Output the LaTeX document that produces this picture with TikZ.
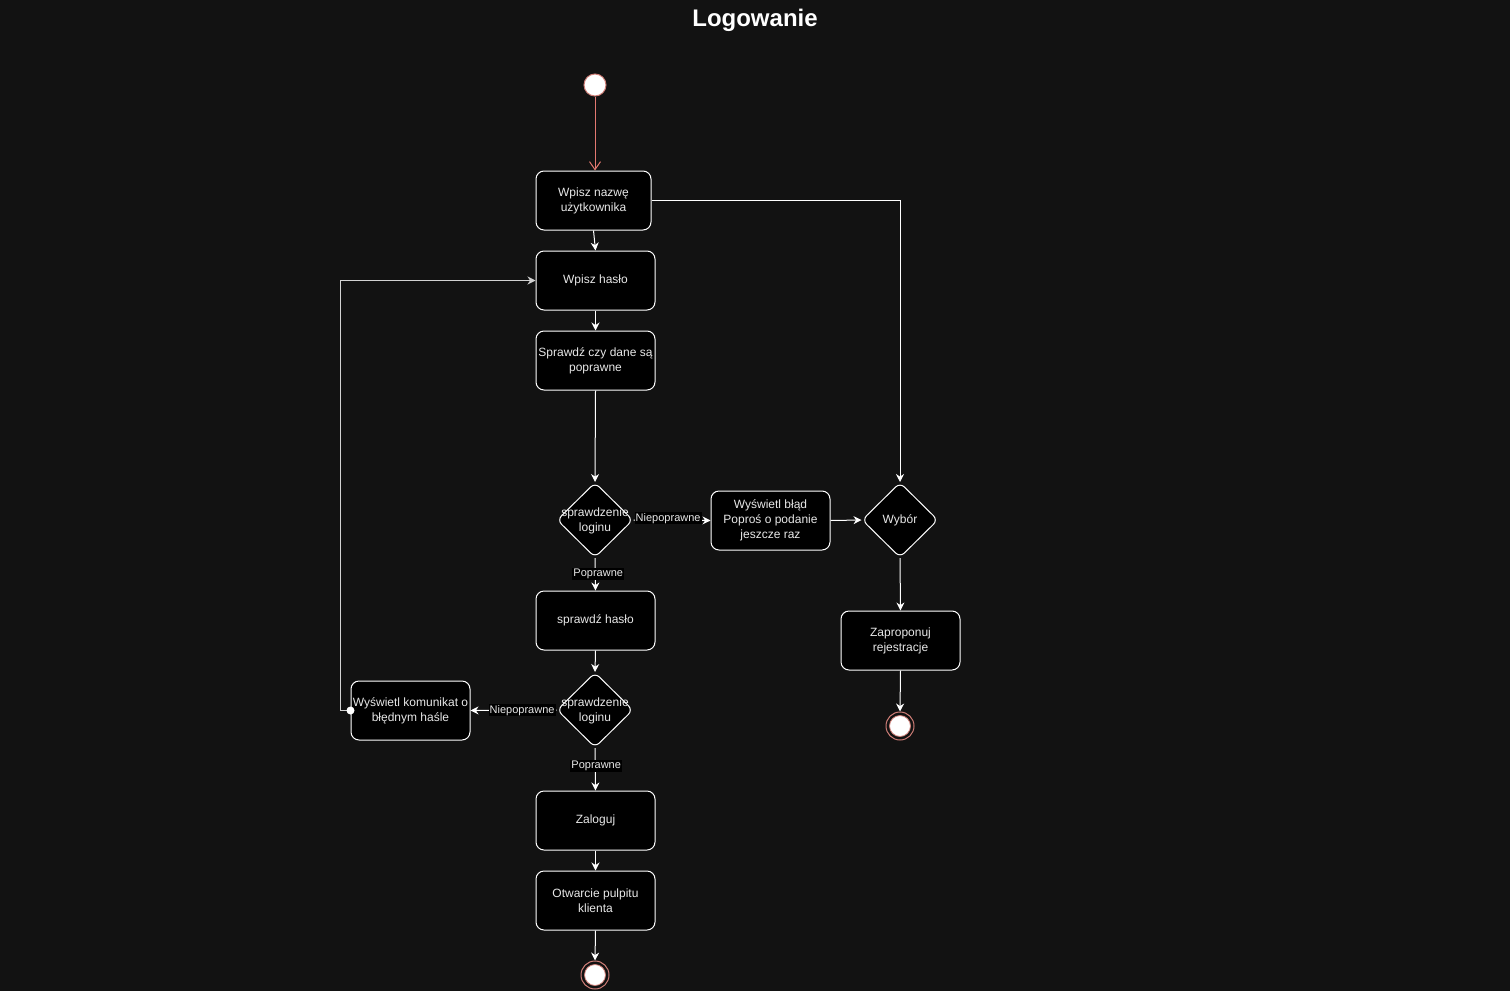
\documentclass[tikz,border=0pt]{standalone}
\usepackage{fontspec}
\setmainfont{Liberation Sans}
\usetikzlibrary{shapes.geometric,arrows.meta}
\definecolor{bg}{RGB}{18,18,18}
\definecolor{txt}{RGB}{232,232,232}
\definecolor{pinkline}{RGB}{226,120,112}
\definecolor{ring}{RGB}{205,125,118}
\definecolor{backline}{RGB}{210,210,210}
\begin{document}
\begin{tikzpicture}[x=1pt,y=-1pt,
  box/.style={draw=white, fill=black, rounded corners=8pt, line width=1pt, minimum width=119pt, minimum height=59pt, align=center, text=txt, font=\fontsize{12}{15}\selectfont, inner sep=1pt},
  dia/.style={diamond, draw=white, fill=black, rounded corners=6pt, line width=1pt, minimum width=76pt, minimum height=75pt, inner sep=0pt},
  dtext/.style={align=center, text=txt, font=\fontsize{12}{15}\selectfont, inner sep=0pt},
  lbl/.style={fill=black, text=txt, font=\fontsize{11}{13}\selectfont, inner sep=1pt},
  arr/.style={draw=white, line width=1pt, -{Stealth[length=8pt,width=8pt]}},
  startnode/.style={circle, draw=ring, fill=white, minimum size=22pt, inner sep=0pt, line width=1pt},
  endnode/.style={circle, draw=ring, fill=bg, minimum size=28pt, inner sep=0pt, line width=1pt}
]
\useasboundingbox[fill=bg] (0,0) rectangle (1510,991);

\node[font=\fontsize{24}{28}\selectfont\bfseries, text=white] (title) at (755,20) {Logowanie};

\node[startnode] (start) at (595,85) {};
\node[box, minimum width=115pt] (b1) at (593.5,200.5) {Wpisz nazwę\\użytkownika};
\node[box] (b2) at (595.5,280.5) {Wpisz hasło};
\node[box] (b3) at (595.5,360.5) {Sprawdź czy dane są\\poprawne};
\node[dia] (d1) at (595,520) {};
\node[dtext] at ([yshift=-1pt]d1.center) {sprawdzenie\\loginu};
\node[box] (err) at (770.5,520.5) {Wyświetl błąd\\Poproś o podanie\\jeszcze raz};
\node[dia] (wyb) at (900,520) {};
\node[dtext] at (wyb) {Wybór};
\node[box] (rej) at (900.5,640.5) {Zaproponuj\\rejestracje};
\node[endnode] (e2) at (900,726) {};
\fill[white, draw=ring, line width=0.8pt] (e2) circle (10.5pt);
\node[box] (hasl) at (595.5,620.5) {sprawdź hasło};
\node[dia] (d2) at (595,710) {};
\node[dtext] at ([yshift=-1pt]d2.center) {sprawdzenie\\loginu};
\node[box] (kom) at (410.5,710.5) {Wyświetl komunikat o\\błędnym haśle};
\node[box] (zal) at (595.5,820.5) {Zaloguj};
\node[box] (otw) at (595.5,900.5) {Otwarcie pulpitu\\klienta};
\node[endnode] (e1) at (595,975) {};
\fill[white, draw=ring, line width=0.8pt] (e1) circle (10.5pt);

\draw[draw=pinkline, line width=1pt, -{Straight Barb[length=8pt,width=11pt]}] (start) -- (start |- b1.north);
\draw[arr] (b1.south) -- (b2.north);
\draw[arr] (b1.east) -| (wyb.north);
\draw[arr] (b2.south) -- (b3.north);
\draw[arr] (b3.south) -- (d1.north);
\draw[arr] (d1.east) -- node[lbl, pos=0.45, yshift=2pt] {Niepoprawne} (err.west);
\draw[arr] (err.east) -- (wyb.west);
\draw[arr] (wyb.south) -- (rej.north);
\draw[arr] (rej.south) -- (e2.north);
\draw[arr] (d1.south) -- node[lbl, pos=0.5, xshift=3pt] {Poprawne} (hasl.north);
\draw[arr] (hasl.south) -- (d2.north);
\draw[arr] (d2.west) -- node[lbl, pos=0.4] {Niepoprawne} (kom.east);
\draw[arr] (d2.south) -- node[lbl, pos=0.42, xshift=1pt] {Poprawne} (zal.north);
\draw[arr] (zal.south) -- (otw.north);
\draw[arr] (otw.south) -- (e1.north);
\draw[arr, draw=backline] (kom.west) -- ++(-10,0) |- (b2.west);
\fill[white] (kom.west) circle (4pt);
\end{tikzpicture}
\end{document}
